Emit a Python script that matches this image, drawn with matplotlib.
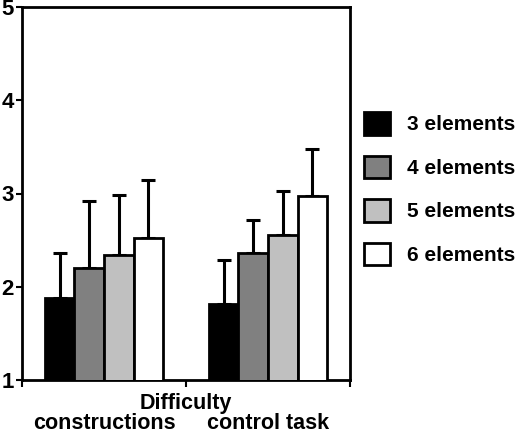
import matplotlib
matplotlib.use("Agg")
import matplotlib.pyplot as plt
from matplotlib.patches import Patch
import numpy as np

plt.rcParams['font.family'] = ['Liberation Sans', 'DejaVu Sans']
plt.rcParams['font.weight'] = 'bold'

# Data
categories = ["constructions", "control task"]
series_labels = ["3 elements", "4 elements", "5 elements", "6 elements"]
means = [
    [1.88, 1.81],   # 3 elements
    [2.20, 2.36],   # 4 elements
    [2.34, 2.56],   # 5 elements
    [2.52, 2.97],   # 6 elements
]
upper_err = [
    [0.48, 0.48],
    [0.72, 0.36],
    [0.64, 0.47],
    [0.62, 0.51],
]
colors = ["#000000", "#808080", "#c0c0c0", "#ffffff"]

fig = plt.figure(figsize=(5.21, 4.33), dpi=100)
ax = fig.add_axes([22/521, 1 - 380/433, (350 - 22)/521, (380 - 7)/433])

x = np.arange(len(categories))
w = 0.18
for i, (vals, errs) in enumerate(zip(means, upper_err)):
    pos = x + (i - 1.5) * w
    ax.bar(pos, vals, width=w, color=colors[i], edgecolor="black", linewidth=2, zorder=3)
    ax.errorbar(pos, vals, yerr=[[0] * len(vals), errs], fmt="none", ecolor="black",
                elinewidth=2.2, capsize=5, capthick=2.2, zorder=2)

ax.set_xlim(-0.5, 1.5)
ax.set_ylim(1, 5)
ax.set_yticks([1, 2, 3, 4, 5])
ax.tick_params(axis="y", labelsize=16, length=4, width=1.5, pad=2, direction="out")
for lab in ax.get_yticklabels():
    lab.set_fontweight("bold")

# category labels at centers, boundary ticks as minor ticks
ax.set_xticks(x)
ax.set_xticklabels(categories, fontsize=15.5, fontweight="bold")
ax.tick_params(axis="x", which="major", length=0, pad=24)
ax.set_xticks([-0.5, 0.5, 1.5], minor=True)
ax.tick_params(axis="x", which="minor", length=5, width=1.5, direction="out")

ax.text(0.5, -24/373, "Difficulty", transform=ax.transAxes, ha="center", va="center",
        fontsize=15.5, fontweight="bold")

for s in ax.spines.values():
    s.set_linewidth(2)

handles = [Patch(facecolor=c, edgecolor="black", linewidth=2) for c in colors]
fig.legend(handles, series_labels, loc="upper left",
           bbox_to_anchor=(364/521, 1 - 112/433), frameon=False,
           handlelength=1.25, handleheight=1.3, handletextpad=0.8,
           labelspacing=1.0, borderpad=0, borderaxespad=0,
           prop={"weight": "bold", "size": 15})

fig.savefig("out.png", dpi=100)
